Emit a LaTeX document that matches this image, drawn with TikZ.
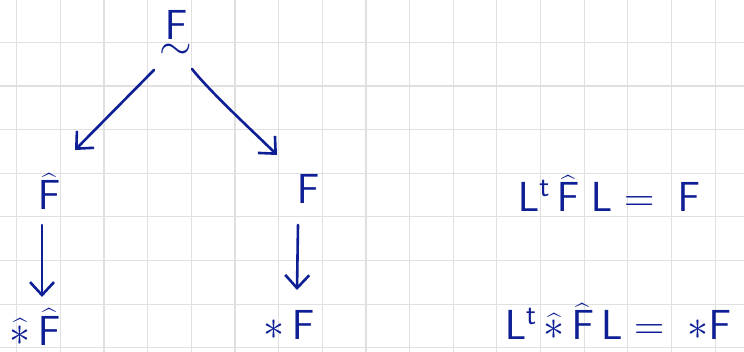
\RequirePackage{fix-cm}
\documentclass[tikz,border=0pt]{standalone}
\usepackage{amsmath}
\usetikzlibrary{arrows.meta}
\definecolor{ink}{RGB}{14,30,148}
\definecolor{gridc}{RGB}{224,224,224}
\begin{document}
\begin{tikzpicture}[x=1pt,y=-1pt,
  ink/.style={text=ink, font=\fontsize{42}{48}\selectfont, inner sep=0pt, anchor=base},
  arr/.style={draw=ink, line width=2.6pt, line cap=round, line join=round,
    -{Straight Barb[length=13pt,width=24pt,line width=2.6pt]}}]
\useasboundingbox[fill=white] (0,0) rectangle (744,352);
\foreach \i in {0,...,16} \draw[gridc, line width=1.2pt] ({16.7+43.65*\i},0) -- ({16.7+43.65*\i},352);
\foreach \j in {0,...,7} \draw[gridc, line width=1.2pt] (0,{42.3+43.65*\j}) -- (744,{42.3+43.65*\j});
\node[ink] (top) at (176,40) {$\underset{\textstyle\sim}{\mathsf F}$};
\node[ink] (lhat) at (49,210) {$\widehat{\mathsf F}$};
\node[ink] (rF) at (308,204) {$\mathsf F$};
\node[ink] (bl) at (35,345) {$\widehat{\ast}\,\widehat{\mathsf F}$};
\node[ink] (bm) at (289,340) {$\ast\,\mathsf F$};
\node[ink] (eq1) at (609,212) {$\mathsf L^{\mathsf t}\,\widehat{\mathsf F}\;\mathsf L = \;\mathsf F$};
\node[ink] (eq2) at (618,340) {$\mathsf L^{\mathsf t}\,\widehat{\ast}\,\widehat{\mathsf F}\,\mathsf L = \;\ast\mathsf F$};
\draw[arr] ([shift={(-22,30)}]top.base) -- ([shift={(26,-60)}]lhat.base);
\draw[arr] ([shift={(16,29)}]top.base) .. controls +(20,25) and +(-20,-20) .. ([shift={(-31,-49)}]rF.base);
\draw[arr] ([shift={(-7,15)}]lhat.base) -- ([shift={(7,-48)}]bl.base);
\draw[arr] ([shift={(-10,21)}]rF.base) -- ([shift={(8,-50)}]bm.base);
\end{tikzpicture}
\end{document}
